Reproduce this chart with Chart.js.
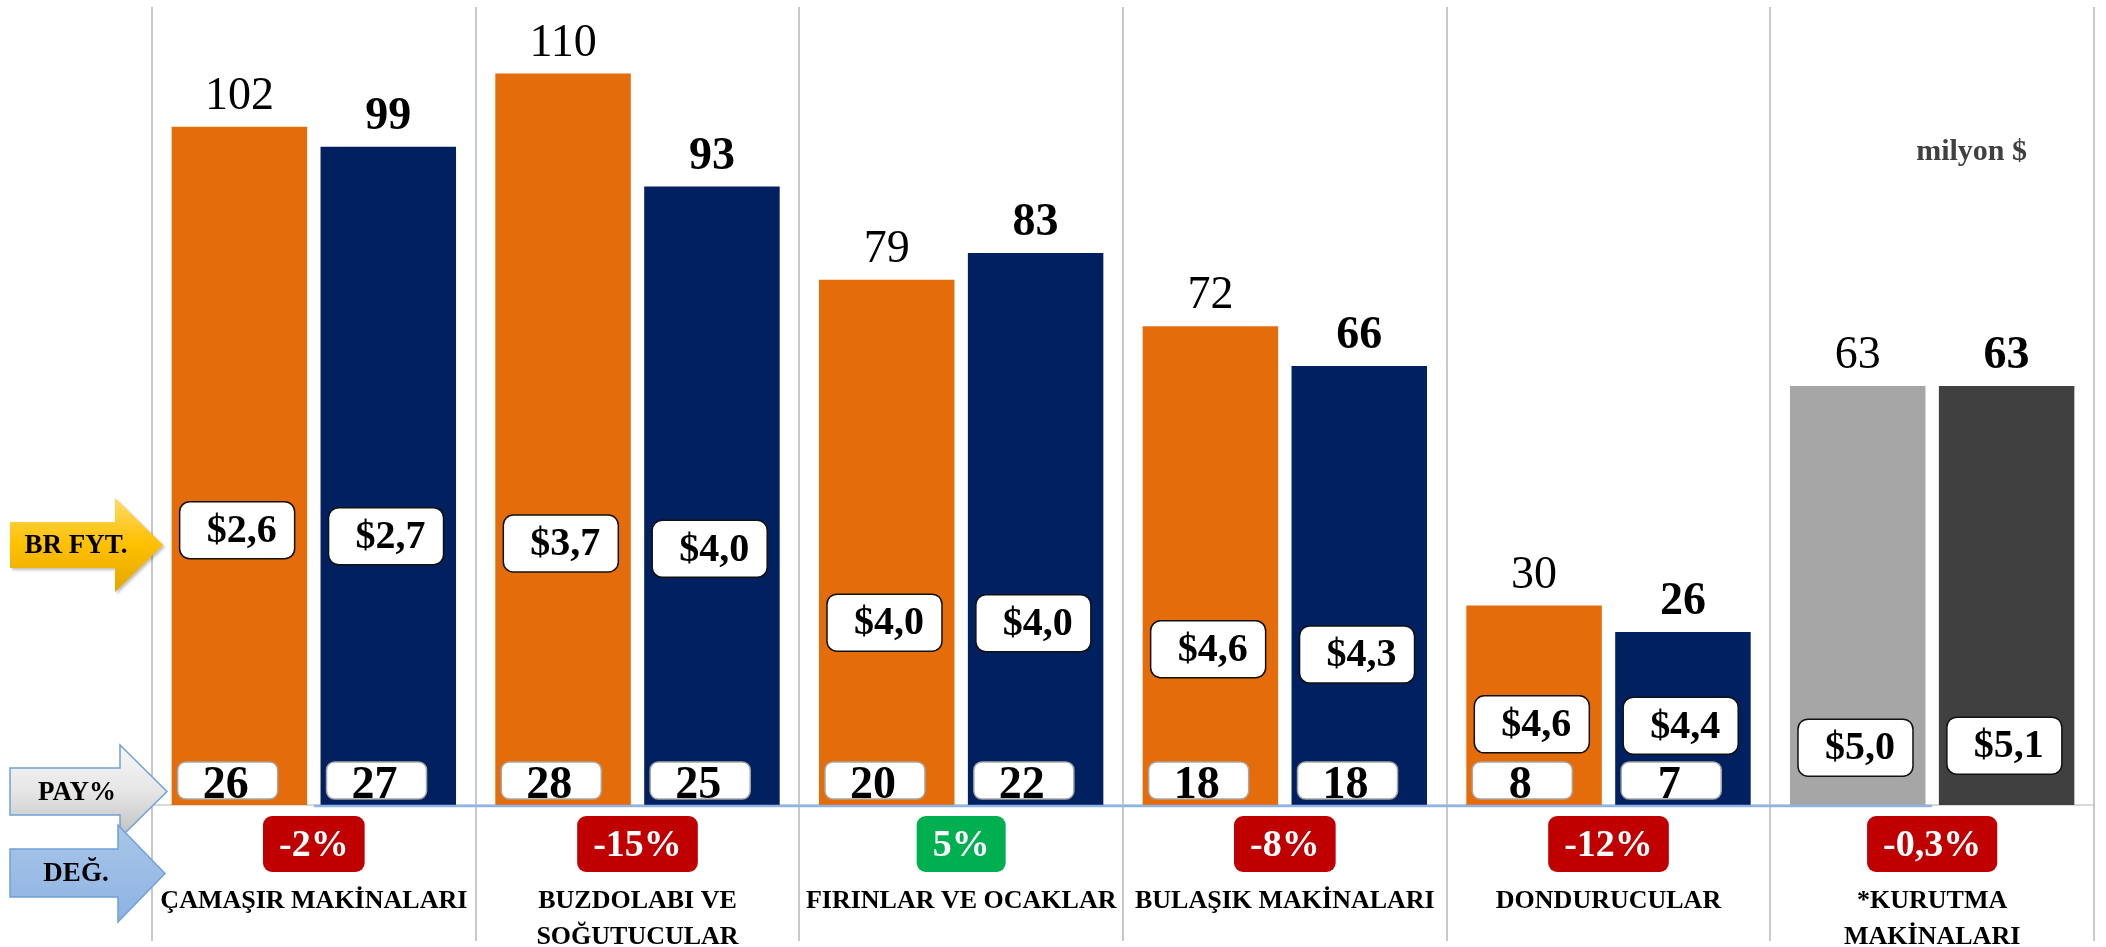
<!DOCTYPE html>
<html lang="tr">
<head>
<meta charset="utf-8">
<title>Beyaz eşya satışları</title>
<script src="https://cdn.jsdelivr.net/npm/chart.js@4.4.1/dist/chart.umd.min.js"></script>
<style>
  html, body { margin: 0; padding: 0; background: #fff; }
  canvas { display: block; }
</style>
</head>
<body>
<canvas id="chart" width="2106" height="947"></canvas>
<script>
const categories = ['ÇAMAŞIR MAKİNALARI', ['BUZDOLABI VE', 'SOĞUTUCULAR'], 'FIRINLAR VE OCAKLAR',
                    'BULAŞIK MAKİNALARI', 'DONDURUCULAR', ['*KURUTMA', 'MAKİNALARI']];
const salesPrev = [102, 110, 79, 72, 30, 63];
const salesCurr = [99, 93, 83, 66, 26, 63];
const pricePrev = [2.6, 3.7, 4.0, 4.6, 4.6, 5.0];
const priceCurr = [2.7, 4.0, 4.0, 4.3, 4.4, 5.1];
const sharePrev = [26, 28, 20, 18, 8, null];
const shareCurr = [27, 25, 22, 18, 7, null];
const change = [-2, -15, 5, -8, -12, -0.3];

// height (axis units) where each price box is placed
const priceAtPrev = [41.4, 39.4, 27.5, 23.5, 12.2, 8.7];
const priceAtCurr = [40.5, 38.6, 27.4, 22.7, 12.0, 9.0];

const FONT = "'Liberation Serif', 'DejaVu Serif', serif";
Chart.defaults.font.family = FONT;

const fmtPrice = v => '$' + v.toFixed(1).replace('.', ',');
const fmtChange = v => (Number.isInteger(v) ? String(v) : v.toFixed(1).replace('.', ',')) + '%';

function box(ctx, x, y, w, h, r, fill, stroke, lw) {
    ctx.beginPath();
    ctx.roundRect(x, y, w, h, r);
    ctx.fillStyle = fill;
    ctx.fill();
    if (stroke) {
        ctx.strokeStyle = stroke;
        ctx.lineWidth = lw;
        ctx.stroke();
    }
}

function arrow(ctx, x0, bodyTop, bodyBot, neck, headTop, headBot, tip, fill, stroke) {
    const tipY = (headTop + headBot) / 2;
    ctx.beginPath();
    ctx.moveTo(x0, bodyTop);
    ctx.lineTo(neck, bodyTop);
    ctx.lineTo(neck, headTop);
    ctx.lineTo(tip, tipY);
    ctx.lineTo(neck, headBot);
    ctx.lineTo(neck, bodyBot);
    ctx.lineTo(x0, bodyBot);
    ctx.closePath();
    ctx.fillStyle = fill;
    ctx.fill();
    if (stroke) {
        ctx.strokeStyle = stroke;
        ctx.lineWidth = 1.5;
        ctx.stroke();
    }
}

function vgrad(ctx, y0, y1, stops) {
    const g = ctx.createLinearGradient(0, y0, 0, y1);
    stops.forEach((c, i) => g.addColorStop(i / (stops.length - 1), c));
    return g;
}

const decor = {
    id: 'decor',
    beforeDatasetsDraw(chart) {
        const { ctx, chartArea, scales: { x } } = chart;
        ctx.save();
        ctx.strokeStyle = '#C8C8C8';
        ctx.lineWidth = 2;
        for (let i = 0; i <= categories.length; i++) {
            const px = Math.round(x.getPixelForValue(i - 0.5));
            ctx.beginPath();
            ctx.moveTo(px, chartArea.top);
            ctx.lineTo(px, chart.height - 6);
            ctx.stroke();
        }
        ctx.restore();
    },
    afterDatasetsDraw(chart) {
        const { ctx, chartArea, scales: { x, y } } = chart;
        const base = chartArea.bottom;
        const metaPrev = chart.getDatasetMeta(0);
        const metaCurr = chart.getDatasetMeta(1);
        ctx.save();

        // blue line along the base
        ctx.strokeStyle = '#8EB4E3';
        ctx.lineWidth = 2.5;
        ctx.beginPath();
        ctx.moveTo(x.getPixelForValue(0), base + 1);
        ctx.lineTo(x.getPixelForValue(categories.length - 1), base + 1);
        ctx.stroke();

        ctx.textAlign = 'center';
        categories.forEach((c, i) => {
            [[metaPrev, salesPrev, pricePrev, priceAtPrev, sharePrev, 'normal'],
             [metaCurr, salesCurr, priceCurr, priceAtCurr, shareCurr, 'bold']].forEach(([meta, sales, price, at, share, w]) => {
                const bar = meta.data[i];
                const left = bar.x - bar.width / 2;

                // value on top
                ctx.fillStyle = '#000';
                ctx.textBaseline = 'alphabetic';
                ctx.font = w + ' 46px ' + FONT;
                ctx.fillText(String(sales[i]), bar.x, bar.y - 18);

                // unit price
                const py = y.getPixelForValue(at[i]);
                box(ctx, left + 8, py - 28, 115, 57, 10, '#fff', '#111', 1.5);
                ctx.fillStyle = '#000';
                ctx.font = 'bold 40px ' + FONT;
                ctx.textBaseline = 'middle';
                ctx.fillText(fmtPrice(price[i]), left + 70, py + 2);

                // market share
                if (share[i] !== null) {
                    box(ctx, left + 6, base - 43, 100, 37, 8, '#fff', '#A6A6A6', 1.5);
                    ctx.fillStyle = '#000';
                    ctx.font = 'bold 46px ' + FONT;
                    ctx.textBaseline = 'alphabetic';
                    ctx.fillText(String(share[i]), left + 54, base - 7);
                }
            });

            // change badge
            const cx = x.getPixelForValue(i);
            const label = fmtChange(change[i]);
            ctx.font = 'bold 38px ' + FONT;
            const tw = ctx.measureText(label).width;
            const bw = tw + 32;
            box(ctx, cx - bw / 2, base + 11, bw, 56, 9, change[i] < 0 ? '#C00000' : '#00B050', null, 0);
            ctx.fillStyle = '#fff';
            ctx.textBaseline = 'middle';
            ctx.fillText(label, cx, base + 41);
        });

        // left arrows
        ctx.shadowColor = 'rgba(0,0,0,0.25)';
        ctx.shadowOffsetX = 2;
        ctx.shadowOffsetY = 2;
        ctx.shadowBlur = 3;
        arrow(ctx, 10, base - 283, base - 237, 115, base - 307, base - 213, 163,
              vgrad(ctx, base - 307, base - 213, ['#FFD966', '#FFC000', '#E3A600']), null);
        ctx.shadowColor = 'transparent';
        arrow(ctx, 10, base - 37, base + 10, 120, base - 60, base + 33, 167,
              vgrad(ctx, base - 60, base + 33, ['#F7F7F7', '#E6E6E6', '#BFBFBF']), '#6FA0D8');
        arrow(ctx, 10, base + 44, base + 92, 118, base + 20, base + 117, 165,
              vgrad(ctx, base + 20, base + 117, ['#A9C6EA', '#9BBCE5', '#8DB3E2']), '#6FA0D8');

        ctx.fillStyle = '#000';
        ctx.textBaseline = 'middle';
        ctx.font = 'bold 27px ' + FONT;
        ctx.fillText('BR FYT.', 76, base - 259);
        ctx.fillText('PAY%', 77, base - 12);
        ctx.fillText('DEĞ.', 76, base + 69);

        // unit note
        ctx.fillStyle = '#404040';
        ctx.font = 'bold 30px ' + FONT;
        ctx.textAlign = 'right';
        ctx.textBaseline = 'alphabetic';
        ctx.fillText('milyon $', chartArea.right - 67, 160);

        ctx.restore();
    }
};

new Chart(document.getElementById('chart'), {
    type: 'bar',
    data: {
        labels: categories,
        datasets: [
            {
                label: 'Önceki yıl',
                data: salesPrev,
                backgroundColor: ['#E46C0A', '#E46C0A', '#E46C0A', '#E46C0A', '#E46C0A', '#A6A6A6']
            },
            {
                label: 'Bu yıl',
                data: salesCurr,
                backgroundColor: ['#002060', '#002060', '#002060', '#002060', '#002060', '#404040']
            }
        ]
    },
    options: {
        responsive: false,
        animation: false,
        categoryPercentage: 0.92,
        barPercentage: 0.91,
        layout: { padding: { left: 152, right: 12, top: 7, bottom: 0 } },
        plugins: {
            legend: { display: false },
            tooltip: { enabled: false }
        },
        scales: {
            x: {
                grid: { display: false },
                border: { display: true, color: '#D9D9D9', width: 2 },
                ticks: {
                    color: '#000',
                    padding: 70,
                    maxRotation: 0,
                    autoSkip: false,
                    font: { size: 26, weight: 'bold', lineHeight: 1.38 }
                },
                // room for the change badges + two label lines
                afterFit: scale => { scale.height = 142; }
            },
            y: { display: false, min: 0, max: 120 }
        }
    },
    plugins: [decor]
});
</script>
</body>
</html>
